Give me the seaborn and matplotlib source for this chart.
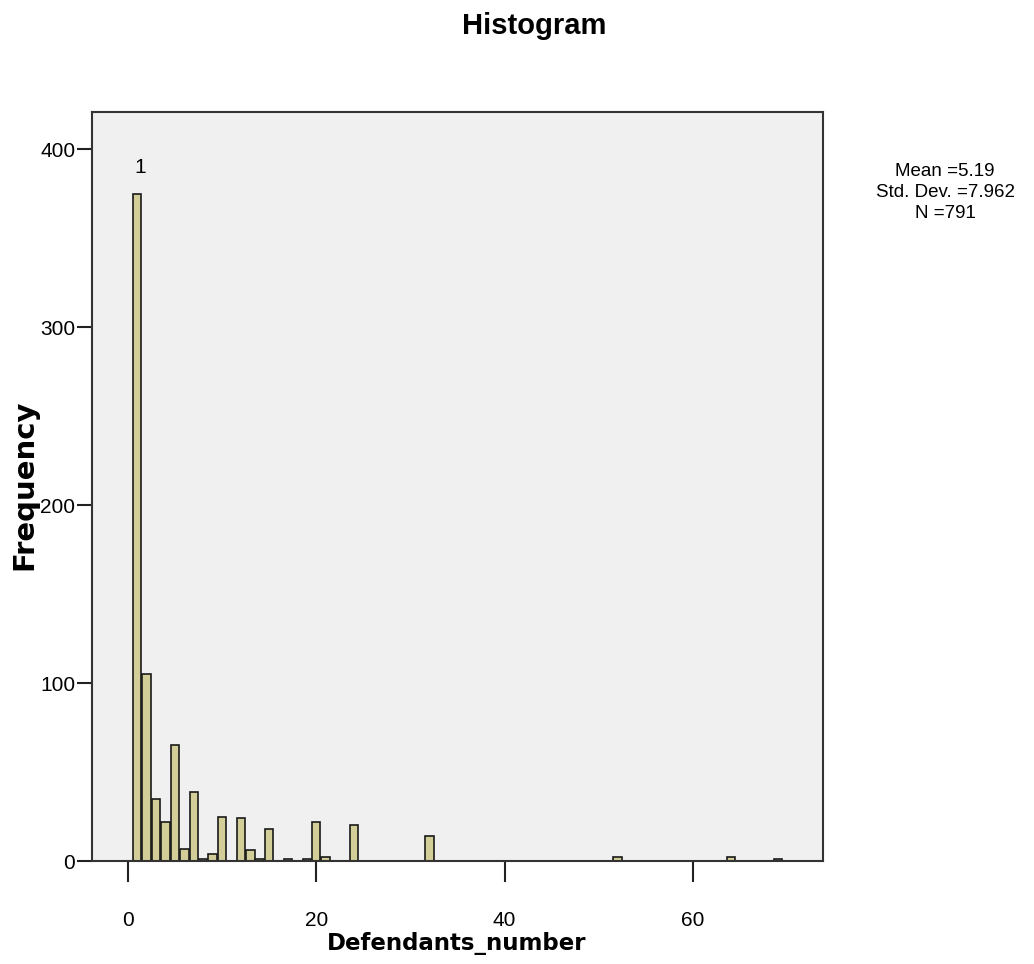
import matplotlib
matplotlib.use("Agg")
import matplotlib.pyplot as plt
import seaborn as sns
import numpy as np
import pandas as pd

# number of defendants per case and how many cases have it
defendants = [1, 2, 3, 4, 5, 6, 7, 8, 9, 10, 12, 13, 14, 15, 17, 19, 20, 21, 24, 32, 52, 64, 69]
frequency = [375, 105, 35, 22, 65, 7, 39, 1, 4, 25, 24, 6, 1, 18, 1, 1, 22, 2, 20, 14, 2, 2, 1]

x_ticks = [0, 20, 40, 60]
y_ticks = [0, 100, 200, 300, 400]
stats_lines = ["Mean =5.19", "Std. Dev. =7.962", "N =791"]


def main():
    df = pd.DataFrame({"Defendants_number": defendants, "count": frequency})

    sns.set_style("white")
    plt.rcParams["font.family"] = ["Liberation Sans", "DejaVu Sans"]
    plt.rcParams["text.color"] = "black"

    fig = plt.figure(figsize=(10.34, 9.64), dpi=100)
    ax = fig.add_axes([0.089, 0.1068, 0.707, 0.777])
    ax.set_facecolor("#f0f0f0")

    sns.histplot(data=df, x="Defendants_number", weights="count", discrete=True,
                 shrink=0.9, color="#d3ce97", alpha=1, edgecolor="#1a1a1a",
                 linewidth=1.2, ax=ax)

    ax.set_xlim(-3.8, 73.8)
    ax.set_ylim(0, 421)
    ax.set_xticks(x_ticks)
    ax.set_yticks(y_ticks)
    ax.tick_params(axis="x", bottom=True, direction="out", length=15, width=1.5,
                   color="#222222", labelsize=15, labelcolor="black", pad=21)
    ax.tick_params(axis="y", left=True, direction="out", length=11, width=1.5,
                   color="#222222", labelsize=15, labelcolor="black", pad=1)
    for s in ax.spines.values():
        s.set_color("#333333")
        s.set_linewidth(1.5)

    # SPSS style label above the tallest bar
    ax.text(1.3, 390, "1", ha="center", va="center", fontsize=15)

    ax.set_xlabel("")
    ax.set_ylabel("")
    fig.text(0.442, 0.021, "Defendants_number", ha="center", va="center",
             fontsize=16.5, fontweight="bold", family="DejaVu Sans")
    fig.text(0.024, 0.497, "Frequency", ha="center", va="center", rotation=90,
             fontsize=21, fontweight="bold", family="DejaVu Sans")

    fig.text(0.517, 0.973, "Histogram", ha="center", va="center", fontsize=21,
             fontweight="bold")

    for i, line in enumerate(stats_lines):
        fig.text(0.914, 0.822 - i * 0.0218, line, ha="center", va="center", fontsize=13.5)

    fig.savefig("out.png", dpi=100)


if __name__ == "__main__":
    main()
